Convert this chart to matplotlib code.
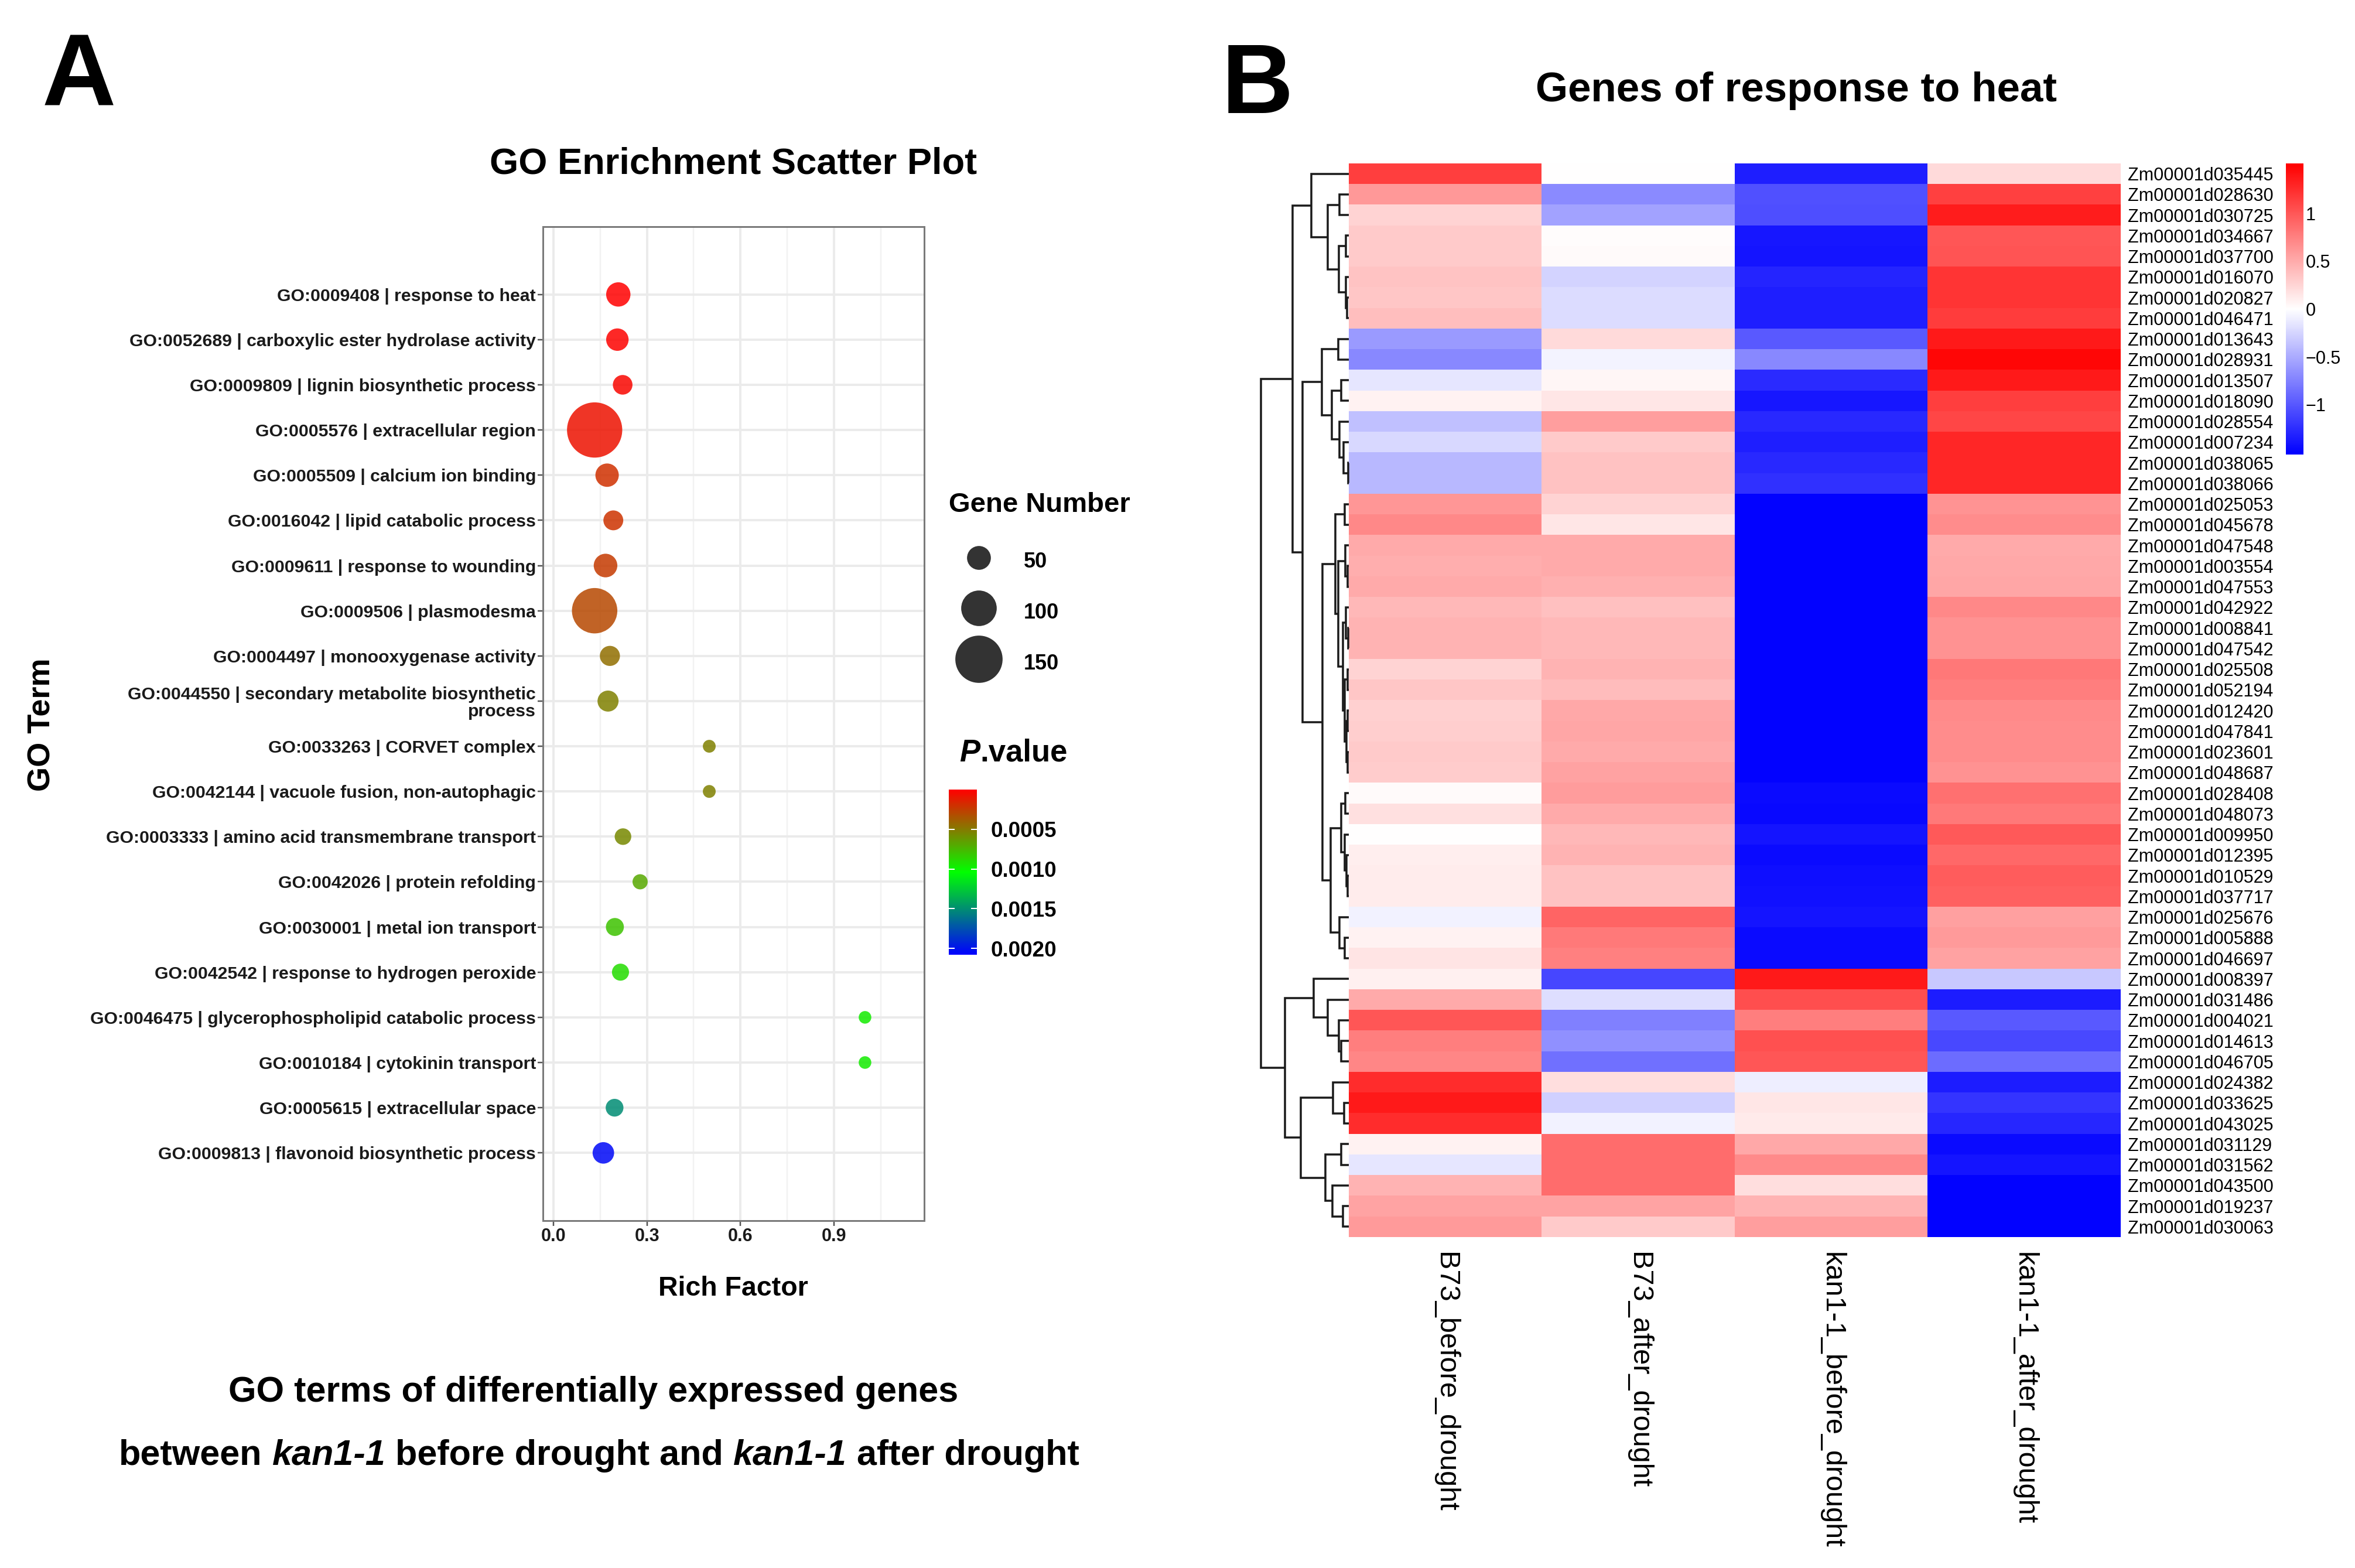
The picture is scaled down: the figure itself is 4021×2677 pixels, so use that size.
import numpy as np
import matplotlib
matplotlib.use('Agg')
import matplotlib.pyplot as plt
from matplotlib.colors import LinearSegmentedColormap, Normalize
from matplotlib.cm import ScalarMappable
from matplotlib.offsetbox import TextArea, HPacker, AnchoredOffsetbox
from matplotlib.lines import Line2D

# ---------------- data: panel A ----------------
go_terms = [
    "GO:0009408 | response to heat",
    "GO:0052689 | carboxylic ester hydrolase activity",
    "GO:0009809 | lignin biosynthetic process",
    "GO:0005576 | extracellular region",
    "GO:0005509 | calcium ion binding",
    "GO:0016042 | lipid catabolic process",
    "GO:0009611 | response to wounding",
    "GO:0009506 | plasmodesma",
    "GO:0004497 | monooxygenase activity",
    "GO:0044550 | secondary metabolite biosynthetic\nprocess",
    "GO:0033263 | CORVET complex",
    "GO:0042144 | vacuole fusion, non-autophagic",
    "GO:0003333 | amino acid transmembrane transport",
    "GO:0042026 | protein refolding",
    "GO:0030001 | metal ion transport",
    "GO:0042542 | response to hydrogen peroxide",
    "GO:0046475 | glycerophospholipid catabolic process",
    "GO:0010184 | cytokinin transport",
    "GO:0005615 | extracellular space",
    "GO:0009813 | flavonoid biosynthetic process",
]
rich_factor = [0.208, 0.205, 0.222, 0.132, 0.172, 0.192, 0.167, 0.132, 0.181, 0.175,
               0.50, 0.50, 0.223, 0.278, 0.197, 0.215, 1.0, 1.0, 0.196, 0.160]
gene_number = [52, 44, 32, 184, 48, 33, 49, 142, 34, 38,
               3, 3, 19, 13, 25, 21, 2, 2, 24, 40]
p_value = [0.000005, 0.00001, 0.00003, 0.00008, 0.00020, 0.00021, 0.00024, 0.00030, 0.00045, 0.00052,
           0.00052, 0.00052, 0.00056, 0.00069, 0.00079, 0.00090, 0.00096, 0.00096, 0.00151, 0.00204]
size_legend = [50, 100, 150]
p_ticks = [0.0005, 0.0010, 0.0015, 0.0020]
p_range = (0.0, 0.00208)
x_ticks = [0.0, 0.3, 0.6, 0.9]
x_minor = [0.15, 0.45, 0.75, 1.05]

# ---------------- data: panel B ----------------
genes = [
    "Zm00001d035445", "Zm00001d028630", "Zm00001d030725", "Zm00001d034667", "Zm00001d037700",
    "Zm00001d016070", "Zm00001d020827", "Zm00001d046471", "Zm00001d013643", "Zm00001d028931",
    "Zm00001d013507", "Zm00001d018090", "Zm00001d028554", "Zm00001d007234", "Zm00001d038065",
    "Zm00001d038066", "Zm00001d025053", "Zm00001d045678", "Zm00001d047548", "Zm00001d003554",
    "Zm00001d047553", "Zm00001d042922", "Zm00001d008841", "Zm00001d047542", "Zm00001d025508",
    "Zm00001d052194", "Zm00001d012420", "Zm00001d047841", "Zm00001d023601", "Zm00001d048687",
    "Zm00001d028408", "Zm00001d048073", "Zm00001d009950", "Zm00001d012395", "Zm00001d010529",
    "Zm00001d037717", "Zm00001d025676", "Zm00001d005888", "Zm00001d046697", "Zm00001d008397",
    "Zm00001d031486", "Zm00001d004021", "Zm00001d014613", "Zm00001d046705", "Zm00001d024382",
    "Zm00001d033625", "Zm00001d043025", "Zm00001d031129", "Zm00001d031562", "Zm00001d043500",
    "Zm00001d019237", "Zm00001d030063",
]
samples = ["B73_before_drought", "B73_after_drought", "kan1-1_before_drought", "kan1-1_after_drought"]
b73_before = [1.14, 0.61, 0.25, 0.32, 0.32, 0.35, 0.34, 0.38, -0.60, -0.71,
              -0.15, 0.08, -0.38, -0.23, -0.42, -0.42, 0.62, 0.71, 0.50, 0.48,
              0.50, 0.42, 0.45, 0.45, 0.25, 0.34, 0.28, 0.29, 0.32, 0.30,
              0.03, 0.18, 0.00, 0.10, 0.11, 0.11, -0.08, 0.08, 0.16, 0.09,
              0.50, 1.00, 0.76, 0.72, 1.25, 1.36, 1.25, 0.08, -0.15, 0.45,
              0.54, 0.60]
b73_after = [0.00, -0.70, -0.55, 0.02, 0.03, -0.25, -0.21, -0.21, 0.22, -0.06,
             0.05, 0.15, 0.57, 0.32, 0.36, 0.36, 0.25, 0.15, 0.50, 0.50,
             0.47, 0.37, 0.42, 0.42, 0.44, 0.40, 0.52, 0.53, 0.50, 0.55,
             0.59, 0.50, 0.42, 0.45, 0.36, 0.36, 0.92, 0.79, 0.75, -1.10,
             -0.20, -0.76, -0.66, -0.85, 0.20, -0.28, -0.08, 0.87, 0.87, 0.87,
             0.54, 0.31]
kan_before = [-1.33, -1.04, -1.05, -1.38, -1.40, -1.30, -1.33, -1.33, -0.98, -0.71,
              -1.26, -1.38, -1.28, -1.33, -1.28, -1.23, -1.50, -1.50, -1.50, -1.50,
              -1.50, -1.50, -1.50, -1.50, -1.50, -1.50, -1.50, -1.50, -1.50, -1.50,
              -1.46, -1.47, -1.40, -1.45, -1.43, -1.42, -1.40, -1.45, -1.46, 1.36,
              1.05, 0.76, 1.04, 1.00, -0.10, 0.15, 0.12, 0.52, 0.70, 0.20,
              0.45, 0.57]
kan_after = [0.22, 1.13, 1.35, 1.00, 1.02, 1.20, 1.20, 1.16, 1.36, 1.48,
             1.36, 1.14, 1.10, 1.29, 1.29, 1.29, 0.63, 0.68, 0.50, 0.52,
             0.53, 0.71, 0.65, 0.65, 0.80, 0.77, 0.70, 0.68, 0.68, 0.65,
             0.85, 0.79, 0.98, 0.90, 0.97, 0.95, 0.56, 0.60, 0.55, -0.33,
             -1.35, -0.98, -1.09, -0.87, -1.35, -1.20, -1.29, -1.46, -1.40, -1.50,
             -1.50, -1.50]
z_ticks = [-1, -0.5, 0, 0.5, 1]
z_range = (-1.52, 1.52)

# row dendrogram: (left, right, merge height); leaves are row indices
tree = (
    ((0, ((1, 2, 0.48), ((3, 4, 0.15), (5, (6, 7, 0.08), 0.15), 0.51), 1.08), 1.90),
     (((8, 9, 0.55), ((10, 11, 0.40), (12, (13, (14, 15, 0.03), 0.28), 0.48), 0.86), 1.36),
      (((16, 17, 0.21),
        ((18, (19, 20, 0.06), 0.18),
         ((21, (22, 23, 0.03), 0.15),
          ((24, 25, 0.05), ((26, 27, 0.06), (28, 29, 0.05), 0.12), 0.22), 0.30), 0.53), 0.68),
       (((30, 31, 0.18), (32, (33, (34, 35, 0.06), 0.13), 0.21), 0.38),
        (36, (37, 38, 0.21), 0.48), 0.93), 1.35),
      2.36),
     2.88),
    ((39, (40, (41, (42, 43, 0.38), 0.50), 1.08), 1.80),
     ((44, (45, 46, 0.25), 0.80), ((47, 48, 0.40), (49, (50, 51, 0.30), 0.85), 1.18), 2.46),
     3.25),
    4.48)

# ---------------- figure setup ----------------
W, H, DPI = 4021, 2677, 100
PX = 72.0 / DPI
FAM = ['Liberation Sans', 'DejaVu Sans']
plt.rcParams['font.family'] = FAM

fig = plt.figure(figsize=(W / DPI, H / DPI), dpi=DPI)
fig.patch.set_facecolor('white')


def fx(px):
    return px / W


def fy(py):
    return 1 - py / H


def axes_px(left, top, right, bottom):
    return fig.add_axes([left / W, 1 - bottom / H, (right - left) / W, (bottom - top) / H])


def dot_diam_px(n):
    return 20.7 + 0.4 * n


# ---------------- panel A ----------------
fig.text(fx(72), fy(181), 'A', fontsize=126, fontweight='bold', family=FAM, ha='left', va='baseline')
fig.text(fx(1252), fy(280), 'GO Enrichment Scatter Plot', fontsize=45.5, fontweight='bold',
         family=FAM, ha='center', va='center')

p_cmap = LinearSegmentedColormap.from_list('pv', ['#FF0000', '#00FF00', '#0000FF'])
p_norm = Normalize(*p_range)

ax = axes_px(927, 387, 1578, 2084)
ypos = np.arange(len(go_terms))
sizes = [(dot_diam_px(n) * PX) ** 2 for n in gene_number]
ax.scatter(rich_factor, ypos, s=sizes, c=p_value, cmap=p_cmap, norm=p_norm,
           alpha=0.85, edgecolors='none', zorder=3)
ax.set_xlim(-0.034, 1.19)
ax.set_ylim(len(go_terms) - 1 + 1.5, -1.5)
ax.set_xticks(x_ticks)
ax.set_xticklabels(['%.1f' % v for v in x_ticks])
ax.set_xticks(x_minor, minor=True)
ax.set_yticks(ypos)
ax.set_yticklabels(go_terms)
ax.grid(which='major', color='#EBEBEB', lw=4 * PX)
ax.grid(which='minor', axis='x', color='#F2F2F2', lw=2.5 * PX)
ax.set_axisbelow(True)
for sp in ax.spines.values():
    sp.set_color('#7A7A7A')
    sp.set_linewidth(3 * PX)
ax.tick_params(which='major', length=9 * PX, width=2.5 * PX, color='#555555', pad=3 * PX)
ax.tick_params(which='minor', length=0)
for lab in ax.get_yticklabels():
    lab.set_fontweight('bold')
    lab.set_fontsize(21.8)
    lab.set_color('#1A1A1A')
    lab.set_linespacing(1.05)
for lab in ax.get_xticklabels():
    lab.set_fontweight('bold')
    lab.set_fontsize(22)
    lab.set_color('#1A1A1A')

fig.text(fx(1252), fy(2200), 'Rich Factor', fontsize=33.5, fontweight='bold', family=FAM,
         ha='center', va='center')
fig.text(fx(72), fy(1237), 'GO Term', fontsize=39, fontweight='bold', family=FAM,
         ha='center', va='center', rotation=90)

# size legend
fig.text(fx(1620), fy(862), 'Gene Number', fontsize=34, fontweight='bold', family=FAM,
         ha='left', va='center')
handles = [Line2D([], [], ls='none', marker='o', markersize=dot_diam_px(n) * PX,
                  markerfacecolor='#333333', markeredgecolor='none') for n in size_legend]
fig.legend(handles, [str(n) for n in size_legend], loc='upper left',
           bbox_to_anchor=(fx(1620), fy(934)), frameon=False,
           prop={'family': FAM, 'weight': 'bold', 'size': 26},
           handlelength=2.8, handleheight=1.6, handletextpad=0.75, labelspacing=1.12,
           borderpad=0, borderaxespad=0)

# p-value colorbar
ptitle = HPacker(children=[TextArea('P', textprops=dict(fontsize=38, fontweight='bold', fontstyle='italic', family=FAM)),
                           TextArea('.value', textprops=dict(fontsize=38, fontweight='bold', family=FAM))],
                 align='baseline', pad=0, sep=0)
fig.add_artist(AnchoredOffsetbox(loc='center left', child=ptitle, pad=0, frameon=False, borderpad=0,
                                 bbox_to_anchor=(fx(1638), fy(1286)), bbox_transform=fig.transFigure))
cax = axes_px(1620, 1348, 1668, 1630)
cb = fig.colorbar(ScalarMappable(norm=p_norm, cmap=p_cmap), cax=cax, ticks=p_ticks)
cb.outline.set_visible(False)
cax.invert_yaxis()
cax.set_yticklabels(['%.4f' % t for t in p_ticks])
cax.tick_params(direction='in', color='white', length=10 * PX, width=2 * PX, left=True, right=True,
                labelleft=False, labelright=True, pad=24 * PX)
for lab in cax.get_yticklabels():
    lab.set_family(FAM)
    lab.set_fontweight('bold')
    lab.set_fontsize(26.5)


# captions
def caption(parts, x, y, size, sep):
    kids = [TextArea(s, textprops=dict(fontsize=size, fontweight='bold', fontstyle=st, family=FAM))
            for s, st in parts]
    box = HPacker(children=kids, align='baseline', pad=0, sep=sep)
    fig.add_artist(AnchoredOffsetbox(loc='center', child=box, pad=0, frameon=False, borderpad=0,
                                     bbox_to_anchor=(fx(x), fy(y)), bbox_transform=fig.transFigure))


caption([('GO terms of differentially expressed genes', 'normal')], 1013, 2377, 44, 0)
caption([('between', 'normal'), ('kan1-1', 'italic'), ('before drought and', 'normal'),
         ('kan1-1', 'italic'), ('after drought', 'normal')], 1023, 2485, 44, 0.278 * 44)

# ---------------- panel B ----------------
fig.text(fx(2086), fy(193), 'B', fontsize=122, fontweight='bold', family=FAM, ha='left', va='baseline')
fig.text(fx(3067), fy(155), 'Genes of response to heat', fontsize=51, fontweight='bold', family=FAM,
         ha='center', va='center')

z_cmap = LinearSegmentedColormap.from_list('bwr2', ['#0000FF', '#FFFFFF', '#FF0000'], N=256)
mat = np.column_stack([b73_before, b73_after, kan_before, kan_after])

hax = axes_px(2303, 279, 3621, 2112)
im = hax.imshow(mat, cmap=z_cmap, vmin=z_range[0], vmax=z_range[1], aspect='auto',
                interpolation='nearest')
hax.set_yticks(np.arange(len(genes)))
hax.set_yticklabels(genes, fontsize=22, family=FAM)
hax.yaxis.tick_right()
hax.set_xticks(np.arange(len(samples)))
hax.set_xticklabels(samples, fontsize=35, family=FAM, rotation=270, ha='center', va='top')
hax.tick_params(axis='y', length=0, pad=12 * PX)
hax.tick_params(axis='x', length=0, pad=26 * PX)
for sp in hax.spines.values():
    sp.set_visible(False)

# dendrogram
dax = axes_px(2153, 279, 2303, 2112)
leaf_order = []


def draw_node(node):
    if isinstance(node, int):
        leaf_order.append(node)
        return float(node), 0.0
    left, right, h = node
    yl, hl = draw_node(left)
    yr, hr = draw_node(right)
    dax.plot([hl, h, h, hr], [yl, yl, yr, yr], color='#1A1A1A', lw=3.5 * PX,
             solid_capstyle='butt', solid_joinstyle='miter', clip_on=False)
    return (yl + yr) / 2.0, h


_, root_h = draw_node(tree)
assert leaf_order == list(range(len(genes)))
dax.set_xlim(root_h, 0)
dax.set_ylim(len(genes) - 0.5, -0.5)
dax.axis('off')

# z-score colorbar
cbax = axes_px(3903, 279, 3933, 776)
cb2 = fig.colorbar(im, cax=cbax, ticks=z_ticks)
cb2.outline.set_visible(False)
cbax.set_yticklabels(['%g' % t if t >= 0 else '\u2212%g' % abs(t) for t in z_ticks])
cbax.tick_params(length=0, pad=4 * PX)
for lab in cbax.get_yticklabels():
    lab.set_family(FAM)
    lab.set_fontsize(22)

fig.savefig('out.png', dpi=DPI, facecolor='white')
